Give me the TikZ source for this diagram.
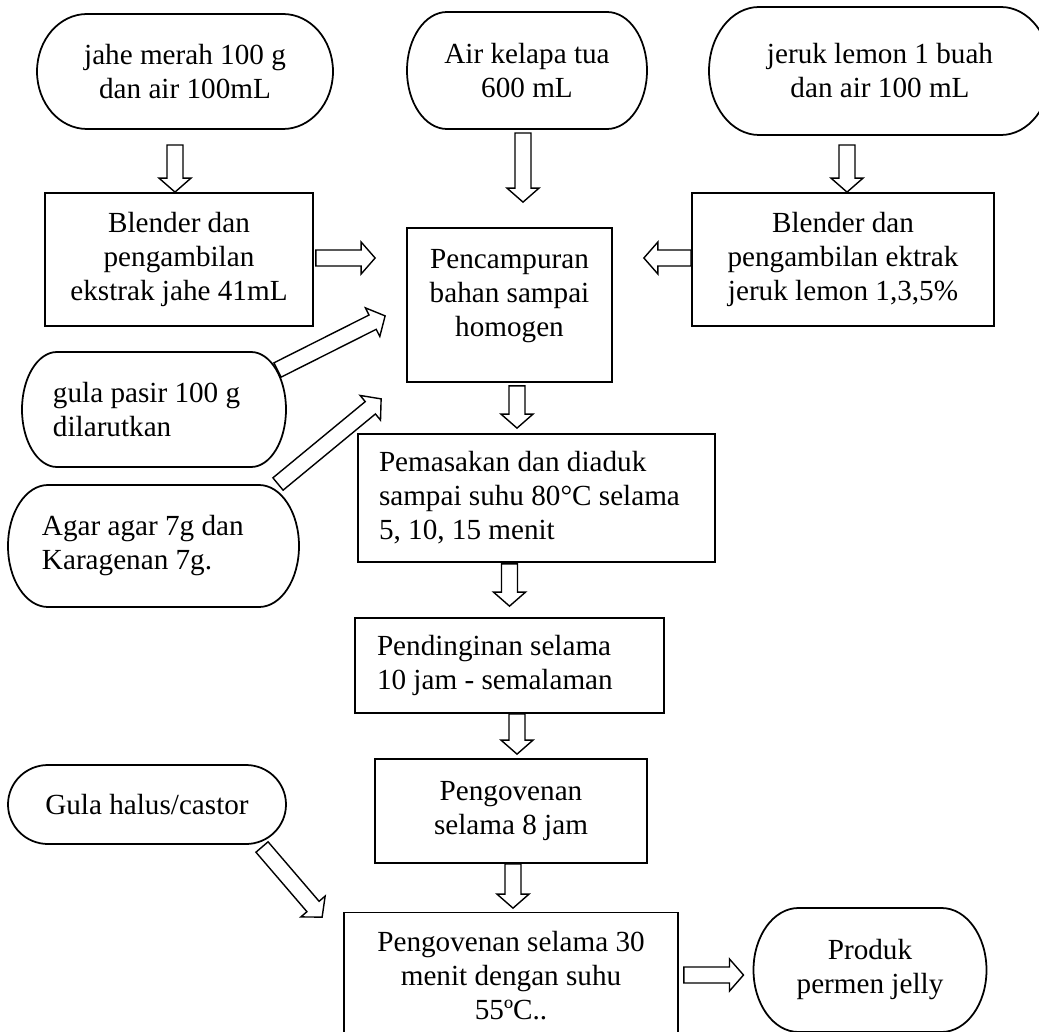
\documentclass[tikz,border=0pt]{standalone}
\usepackage{fontspec}
\setmainfont{Liberation Serif}
\usetikzlibrary{calc,positioning}

\tikzset{
  box/.style={draw, line width=1pt, inner sep=2pt, align=center},
  leftbox/.style={box, align=flush left, inner xsep=0pt, text width=#1},
  terminal/.style={inner sep=2pt, outer sep=0pt, align=center},
  blockarrow/.style={line width=0.8pt, fill=white, to path={
    let \p1=($(\tikztotarget)!2.8mm!(\tikztostart)$) in
    ($(\tikztostart)!1.6mm!90:(\tikztotarget)$) -- ($(\p1)!1.6mm!90:(\tikztotarget)$)
    -- ($(\p1)!3.2mm!90:(\tikztotarget)$) -- (\tikztotarget)
    -- ($(\p1)!3.2mm!-90:(\tikztotarget)$) -- ($(\p1)!1.6mm!-90:(\tikztotarget)$)
    -- ($(\tikztostart)!1.6mm!-90:(\tikztotarget)$) -- cycle}}
}

\begin{document}
\begin{tikzpicture}[x=0.2mm, y=-0.2mm, font=\fontsize{16.6}{19.35}\selectfont]
    \path[use as bounding box, fill=white] (0,0) rectangle (1039,1032);

    % Bahan awal
    \node[terminal, minimum width=59.2mm, minimum height=23mm] (jahe) at (185,71.5) {jahe merah 100 g\\dan air 100mL};
    \node[terminal, minimum width=48mm, minimum height=23.4mm] (kelapa) at (527,70.5) {Air kelapa tua\\600 mL};
    \node[terminal, minimum width=68.4mm, minimum height=25.6mm] (jeruk) at (880,71) {jeruk lemon 1 buah\\dan air 100 mL};

    % Ekstraksi dan pencampuran
    \node[box, minimum width=53.6mm, minimum height=26.6mm] (blendj) at (179,259.5) {Blender dan\\pengambilan\\ekstrak jahe 41mL};
    \node[box, minimum width=41mm, minimum height=30.8mm] (campur) at (509.5,305) {Pencampuran\\bahan sampai\\homogen\\[-6pt]\mbox{}};
    \node[box, minimum width=60.4mm, minimum height=26.6mm] (blendl) at (843,259.5) {Blender dan\\pengambilan ektrak\\jeruk lemon 1,3,5\%};

    % Bahan tambahan
    \node[terminal, align=flush left, inner xsep=0pt, text width=40.4mm, minimum width=52.8mm, minimum height=23mm] (gula) at (154,409.5) {gula pasir 100 g\\dilarutkan};
    \node[terminal, align=flush left, inner xsep=0pt, text width=44.6mm, minimum width=58.2mm, minimum height=24.4mm] (agar) at (153.5,546) {Agar agar 7g dan\\Karagenan 7g.};
    \node[terminal, minimum width=55.6mm, minimum height=15.8mm] (halus) at (147,804.5) {Gula halus/castor};

    % Proses
    \node[leftbox=63mm, minimum width=71.4mm, minimum height=25.6mm] (masak) at (536.5,498) {Pemasakan dan diaduk\\sampai suhu 80°C selama\\5, 10, 15 menit};
    \node[leftbox=53mm, minimum width=61.8mm, minimum height=19mm] (dingin) at (509.5,665.5) {Pendinginan selama\\10 jam - semalaman};
    \node[box, minimum width=54.4mm, minimum height=20.8mm] (oven8) at (511,811) {Pengovenan\\selama 8 jam};
    \node[box, minimum width=66.8mm, minimum height=25.4mm] (oven30) at (511,976) {Pengovenan selama 30\\menit dengan suhu\\55ºC..};
    \node[terminal, minimum width=46.6mm, minimum height=24.8mm] (produk) at (870,970) {Produk\\permen jelly};

    % Rounded outlines
    \foreach \shp/\rad in {jahe/10mm, kelapa/8mm, jeruk/10mm, gula/7mm, agar/8mm, halus/8mm, produk/9mm} {
        \draw[line width=1pt] let \p1=(\shp.north east), \p2=(\shp.south west), \n1={(\y1-\y2)/2} in
            (\x2+\rad,\y1) -- (\x1-\rad,\y1) arc[start angle=90, end angle=-90, x radius=\rad, y radius=\n1]
            -- (\x2+\rad,\y2) arc[start angle=270, end angle=90, x radius=\rad, y radius=\n1] -- cycle;
    }

    % Arrows
    \draw[blockarrow] ($(jahe.south)+(-10,16)$) to ($(blendj.north)+(-4,0)$);
    \draw[blockarrow] ($(kelapa.south)+(-4,4)$) to ($(campur.north)+(13.5,-25)$);
    \draw[blockarrow] ($(jeruk.south)+(-33,10)$) to ($(blendl.north)+(4,0)$);
    \draw[blockarrow] ($(blendj.east)+(2,-1.5)$) to ($(campur.west)+(-31,-47)$);
    \draw[blockarrow] ($(blendl.west)+(0,-1.5)$) to ($(campur.east)+(31,-47)$);
    \draw[blockarrow] ($(gula.east)+(-8.5,-39.5)$) to ($(campur.south west)+(-21,-67)$);
    \draw[blockarrow] ($(agar.north east)+(-21,-1)$) to ($(campur.south west)+(-25,16)$);
    \draw[blockarrow] ($(campur.south)+(7.5,3)$) to ($(masak.north)+(-19.5,-5)$);
    \draw[blockarrow] ($(masak.south)+(-27,1)$) to ($(dingin.north)+(0,-11)$);
    \draw[blockarrow] ($(dingin.south)+(7.5,0)$) to ($(oven8.north)+(6,-4)$);
    \draw[blockarrow] ($(oven8.south)+(2,0)$) to ($(oven30.north)+(2,-3.5)$);
    \draw[blockarrow] ($(halus.south east)+(-24,3)$) to ($(oven30.north west)+(-21,5.5)$);
    \draw[blockarrow] ($(oven30.east)+(5,-1)$) to ($(produk.west)+(-10,5)$);

\end{tikzpicture}
\end{document}
